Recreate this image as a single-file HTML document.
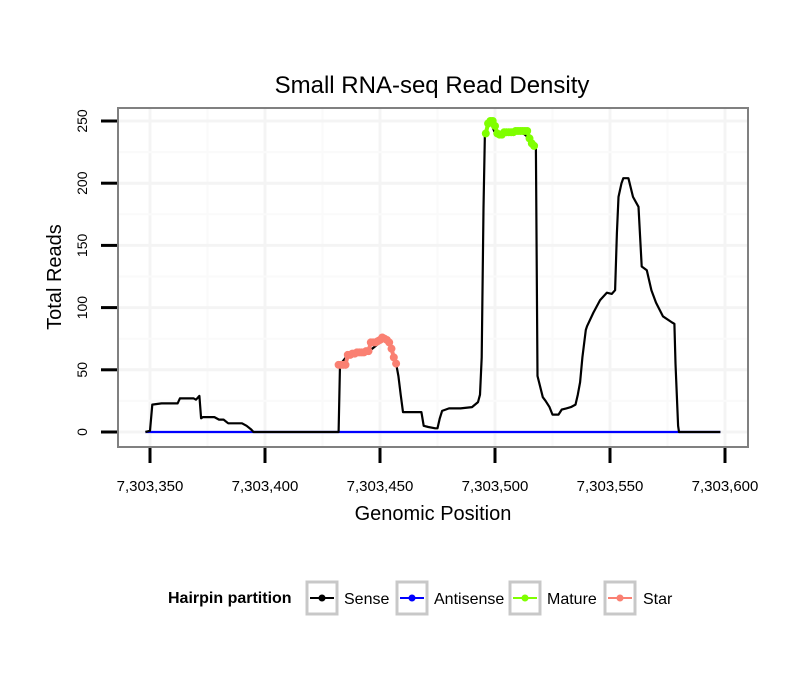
<!DOCTYPE html>
<html><head><meta charset="utf-8"><style>
body{margin:0;background:#fff;}
svg text{font-family:"Liberation Sans",Arial,sans-serif;}
</style></head><body>
<svg id="chart" width="810" height="690" xmlns="http://www.w3.org/2000/svg">
<rect width="810" height="690" fill="#fff"/>
<text x="432" y="93" font-size="24" text-anchor="middle">Small RNA-seq Read Density</text>
<g id="grid"></g>
<g id="series"></g>
<rect x="118" y="108" width="630" height="339" fill="none" stroke="#808080" stroke-width="2"/>
<g id="axes"></g>
<text x="433" y="520" font-size="20" text-anchor="middle">Genomic Position</text>
<text transform="translate(61,277) rotate(-90)" font-size="20" text-anchor="middle">Total Reads</text>
<g>
<text x="168" y="603" font-size="16" font-weight="bold">Hairpin partition</text>
<g>
<rect x="307" y="582" width="30" height="32" fill="#fff" stroke="#c8c8c8" stroke-width="3"/>
<line x1="310" y1="598" x2="334" y2="598" stroke="#000" stroke-width="2"/><circle cx="322" cy="598" r="3.5" fill="#000"/>
<text x="344" y="604" font-size="16">Sense</text></g>
<g>
<rect x="397" y="582" width="30" height="32" fill="#fff" stroke="#c8c8c8" stroke-width="3"/>
<line x1="400" y1="598" x2="424" y2="598" stroke="#0000ff" stroke-width="2"/><circle cx="412" cy="598" r="3.5" fill="#0000ff"/>
<text x="434" y="604" font-size="16">Antisense</text></g>
<g>
<rect x="510" y="582" width="30" height="32" fill="#fff" stroke="#c8c8c8" stroke-width="3"/>
<line x1="513" y1="598" x2="537" y2="598" stroke="#7fff00" stroke-width="2"/><circle cx="525" cy="598" r="3.5" fill="#7fff00"/>
<text x="547" y="604" font-size="16">Mature</text></g>
<g>
<rect x="605" y="582" width="30" height="32" fill="#fff" stroke="#c8c8c8" stroke-width="3"/>
<line x1="608" y1="598" x2="632" y2="598" stroke="#fa8072" stroke-width="2"/><circle cx="620" cy="598" r="3.5" fill="#fa8072"/>
<text x="643" y="604" font-size="16">Star</text></g>
</g>
</svg>
<script>
const BASE = 7303300;
const xTicks = [350, 400, 450, 500, 550, 600];
const xTickLabels = ["7,303,350","7,303,400","7,303,450","7,303,500","7,303,550","7,303,600"];
const yTicks = [0, 50, 100, 150, 200, 250];
const yTickLabels = ["0","50","100","150","200","250"];
const sensePos = [348,350,351,355,362,363,369,370,371.5,372.2,373,378,380,382,384,390,392,394,395,432,432.6,436,440,446,450,452,454,455,456,457,458,459,460,461,468,469,471,474,475,476,477,480,485,490,492.6,493.5,494.2,495,495.6,497,498,499,500,501,504,511,515,516,517,517.8,518.5,520.8,522,523.7,525,527.6,529,531,533,535,536,537,538,539.5,540,542.8,545.7,548.6,550.8,552.2,553,553.7,555,555.8,558,560,562.4,563.8,566,568,570,573,577,578,578.5,579.6,580,598];
const senseVal = [0,1,22,23,23,27,27,26,29,11,12,12,10,10,7,7,5,2,0,0,54,62,64,66,72,75,72,67,60,55,45,30,16,16,16,5,4,3,3,11,17,19,19,20,24,30,60,180,240,248,250,245,240,240,241,242,236,232,230,228,45,28,25,20,14,14,18,19,20,22,30,40,60,82,85,96,106,112,111,114,160,189,200,204,204,189,181,133,130,114,104,93,88,87,55,5,0,0];
const antisensePos = [348,598];
const antisenseVal = [0,0];
const maturePos = [496,497,498,499,500,501,502,503,504,505,506,507,508,509,510,511,512,513,514,515,516,517];
const matureVal = [240,248,250,250,246,240,239,239,241,241,241,241,241,242,242,242,242,242,242,236,232,230];
const starPos = [432,433,434,435,436,437,438,439,440,441,442,443,444,445,446,447,448,449,450,451,452,453,454,455,456,457];
const starVal = [54,54,54,54,62,62,63,63,64,64,64,64,65,65,72,72,72,73,74,76,75,74,72,67,60,55];

const X = v => 150 + (v - 350) * 2.3;
const Y = v => 432 - v * 1.244;
const NS = "http://www.w3.org/2000/svg";
function mk(tag, attrs, parent){const e=document.createElementNS(NS,tag);for(const k in attrs)e.setAttribute(k,attrs[k]);parent.appendChild(e);return e;}

const grid = document.getElementById('grid');
for(let v=325; v<=625; v+=25){ if(X(v)>118 && X(v)<748){
  const l = mk('line',{x1:X(v),x2:X(v),y1:108,y2:447,stroke:(v%50===0?'#f4f4f4':'#fafafa'),'stroke-width':(v%50===0?3:2)},grid);
  
  
}}
for(let v=0; v<=275; v+=25){ if(Y(v)>108 && Y(v)<447){
  const l = mk('line',{x1:118,x2:748,y1:Y(v),y2:Y(v),stroke:(v%50===0?'#f4f4f4':'#fafafa'),'stroke-width':(v%50===0?3:2)},grid);
  
  
}}

const series = document.getElementById('series');
function line(pos, val, color, name){
  const d = pos.map((p,i)=>(i?'L':'M')+X(p).toFixed(1)+','+Y(val[i]).toFixed(1)).join(' ');
  const p = mk('path',{d:d,fill:'none',stroke:color,'stroke-width':2.2,'stroke-linejoin':'round'},series);
  
  
}
function pts(pos, val, color, name){
  const p = mk('path',{fill:'none',stroke:color,'stroke-width':4,'stroke-linejoin':'round'},series);
  p.setAttribute('d', pos.map((q,i)=>(i?'L':'M')+X(q).toFixed(1)+','+Y(val[i]).toFixed(1)).join(' '));
  
  
  pos.forEach((q,i)=>{
    const c = mk('circle',{cx:X(q),cy:Y(val[i]),r:4,fill:color},series);
    
    
  });
}
line(antisensePos, antisenseVal, '#0000ff', 'antisense-line');
line(sensePos, senseVal, '#000', 'sense-line');
pts(starPos, starVal, '#fa8072', 'star');
pts(maturePos, matureVal, '#7fff00', 'mature');

const axes = document.getElementById('axes');
xTicks.forEach((v,i)=>{
  const t = mk('line',{x1:X(v),x2:X(v),y1:448,y2:463,stroke:'#000','stroke-width':3},axes);
  
  
  const tx = mk('text',{x:X(v),y:491,'font-size':15,'text-anchor':'middle'},axes);
  tx.textContent = xTickLabels[i];
  
  
});
yTicks.forEach((v,i)=>{
  const t = mk('line',{x1:101,x2:117,y1:Y(v),y2:Y(v),stroke:'#000','stroke-width':3},axes);
  
  
  const tx = mk('text',{transform:`translate(87,${Y(v)}) rotate(-90)`,'font-size':14,'text-anchor':'middle'},axes);
  tx.textContent = yTickLabels[i];
  
  
});
</script>
</body></html>
